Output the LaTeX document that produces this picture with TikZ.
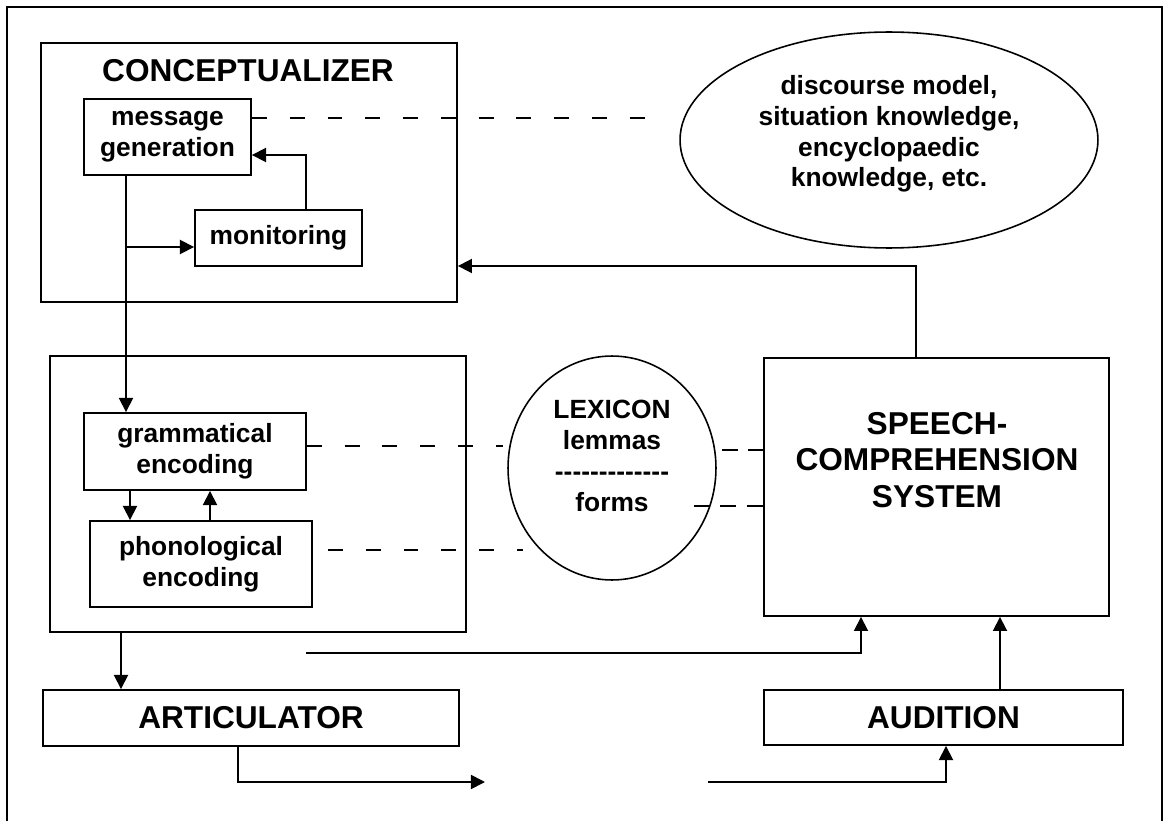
\documentclass[tikz,border=0pt]{standalone}
\usepackage{fontspec}
\setmainfont{Liberation Sans}
\usetikzlibrary{shapes.geometric,arrows.meta,calc}

\begin{document}
\begin{tikzpicture}[x=0.02cm, y=-0.02cm,
    small/.style={font=\bfseries\fontsize{15}{17.5}\selectfont, align=center},
    big/.style={font=\bfseries\fontsize{18}{20.7}\selectfont, align=center},
    box/.style={draw, line width=1.1pt, inner sep=2pt, small},
    bigbox/.style={box, big},
    blob/.style={draw, ellipse, line width=0.9pt, inner sep=0pt},
    arr/.style={line width=1pt, -{Triangle[length=8pt,width=8pt]}},
    link/.style={line width=1pt, dash pattern=on 8.5pt off 13pt},
    shortlink/.style={line width=1pt, dash pattern=on 9pt off 6pt}]
    \useasboundingbox (0,0) rectangle (1164,821);
    \draw[line width=1.4pt] (7,7) rectangle (1162,840);

    % Conceptualizer
    \node[box, minimum width=8.32cm, minimum height=5.18cm] (concept) at (249,172.5) {};
    \node[big] (concepttitle) at (248,71) {CONCEPTUALIZER};
    \node[box, minimum width=3.34cm, minimum height=1.52cm] (msggen) at (167.5,137) {message\\generation};
    \node[box, minimum width=3.34cm, minimum height=1.12cm] (monitor) at (278.5,238) {monitoring};

    % Knowledge store
    \node[blob, minimum width=8.36cm, minimum height=4.32cm] (knowledge) at (889,140) {};
    \node[small] (knowledgetxt) at (889,134) {discourse model,\\situation knowledge,\\encyclopaedic\\knowledge, etc.};

    % Formulator
    \node[box, minimum width=8.32cm, minimum height=5.52cm] (formulator) at (258,494) {};
    \node[box, minimum width=4.44cm, minimum height=1.54cm] (gramenc) at (195,451.5) {grammatical\\encoding};
    \node[box, minimum width=4.44cm, minimum height=1.72cm] (phonenc) at (201,564) {phonological\\encoding};

    % Lexicon
    \node[blob, minimum width=4.16cm, minimum height=4.48cm] (lexicon) at (612,468) {};
    \node[small] (lexicontxt) at (612,456) {LEXICON\\lemmas\\-{}-{}-{}-{}-{}-{}-{}-{}-{}-{}-{}-{}-\\forms};

    % Speech comprehension
    \node[box, minimum width=6.9cm, minimum height=5.16cm] (speech) at (936.5,487) {};
    \node[big] (speechtxt) at (937,460) {SPEECH-\\COMPREHENSION\\SYSTEM};

    % Articulator and audition
    \node[bigbox, minimum width=8.32cm, minimum height=1.12cm] (artic) at (251,718) {ARTICULATOR};
    \node[bigbox, minimum width=7.18cm, minimum height=1.1cm] (audition) at (943.5,717.5) {AUDITION};

    % Inside the conceptualizer
    \coordinate (split) at (126,247);
    \draw[arr] (msggen.south -| split) -- (gramenc.north -| split);
    \draw[arr] (split) -- (split -| monitor.west);
    \coordinate (fbturn) at (306,155);
    \draw[arr] (monitor.north -| fbturn) -- (fbturn) -- (fbturn -| msggen.east);
    \coordinate (knowend) at (653,118);
    \draw[link] (knowend -| msggen.east) -- (knowend);

    % Parsed speech back to conceptualizer
    \coordinate (monturn) at (916,266);
    \draw[arr] (speech.north -| monturn) -- (monturn) -- (monturn -| concept.east);

    % Inside the formulator
    \coordinate (down) at (130,0);
    \coordinate (up) at (210,0);
    \draw[arr] (gramenc.south -| down) -- (phonenc.north -| down);
    \draw[arr] (phonenc.north -| up) -- (gramenc.south -| up);

    % Lexicon links
    \coordinate (lemmaend) at (503,446);
    \draw[link] (lemmaend -| gramenc.east) -- (lemmaend);
    \coordinate (formstart) at (328,550);
    \coordinate (formend) at (523,550);
    \draw[link] (formstart) -- (formend);
    \coordinate (lemmaout) at (722,450);
    \draw[shortlink] (lemmaout) -- (lemmaout -| speech.west);
    \coordinate (formout) at (694,506);
    \draw[shortlink] (formout) -- (formout -| speech.west);

    % Bottom loop
    \coordinate (fdown) at (121,0);
    \draw[arr] (formulator.south -| fdown) -- (artic.north -| fdown);
    \coordinate (parse) at (306,653);
    \coordinate (parseturn) at (861,653);
    \draw[arr] (parse) -- (parseturn) -- (parseturn |- speech.south);
    \coordinate (audup) at (1000,0);
    \draw[arr] (audition.north -| audup) -- (speech.south -| audup);
    \coordinate (speak) at (238,782);
    \coordinate (speakend) at (485,782);
    \draw[arr] (artic.south -| speak) -- (speak) -- (speakend);
    \coordinate (hear) at (708,782);
    \coordinate (hearturn) at (946,782);
    \draw[arr] (hear) -- (hearturn) -- (hearturn |- audition.south);
\end{tikzpicture}
\end{document}
